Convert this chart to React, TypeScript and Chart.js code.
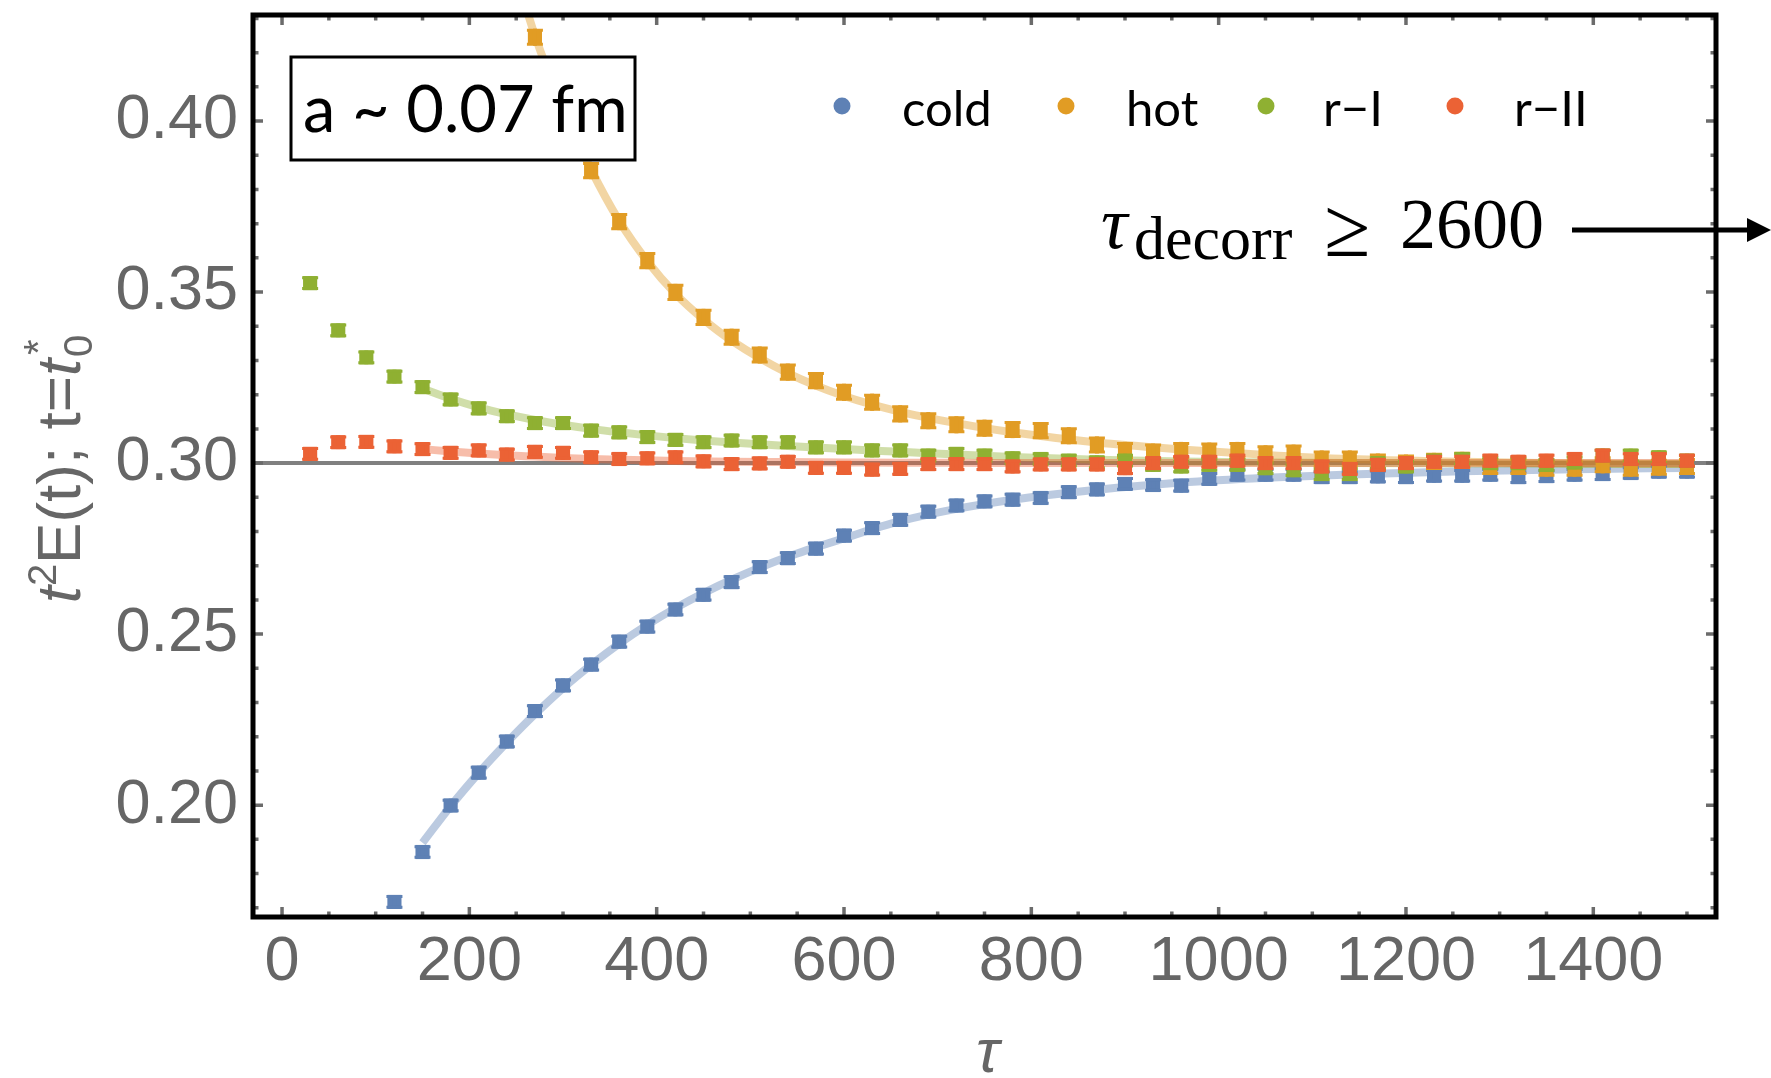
import React, { useEffect, useRef } from "react";
import { Chart, registerables } from "chart.js";

Chart.register(...registerables);

// Markov-chain time (trajectories)
const TAU = [
  30, 60, 90, 120, 150, 180, 210, 240, 270, 300,
  330, 360, 390, 420, 450, 480, 510, 540, 570, 600,
  630, 660, 690, 720, 750, 780, 810, 840, 870, 900,
  930, 960, 990, 1020, 1050, 1080, 1110, 1140, 1170, 1200,
  1230, 1260, 1290, 1320, 1350, 1380, 1410, 1440, 1470, 1500,
];

// t^2 E(t) at t = t0* for each start
const COLD = [
  null, null, null, 0.1717, 0.1863, 0.1999, 0.2095, 0.2186, 0.2275, 0.2350,
  0.2411, 0.2478, 0.2522, 0.2572, 0.2615, 0.2652, 0.2696, 0.2722, 0.2750, 0.2788,
  0.2810, 0.2834, 0.2858, 0.2876, 0.2888, 0.2893, 0.2898, 0.2915, 0.2923, 0.2939,
  0.2936, 0.2934, 0.2954, 0.2966, 0.2966, 0.2966, 0.2959, 0.2959, 0.2961, 0.2959,
  0.2963, 0.2963, 0.2966, 0.2959, 0.2962, 0.2966, 0.2968, 0.2971, 0.2975, 0.2975,
];
const HOT = [
  null, null, null, null, null, null, null, null, 0.4245, 0.4035,
  0.3855, 0.3706, 0.3592, 0.3499, 0.3426, 0.3368, 0.3316, 0.3266, 0.3241, 0.3207,
  0.3178, 0.3144, 0.3124, 0.3112, 0.3102, 0.3098, 0.3095, 0.3080, 0.3053, 0.3037,
  0.3032, 0.3037, 0.3035, 0.3037, 0.3027, 0.3029, 0.3012, 0.3012, 0.3003, 0.3000,
  0.3005, 0.3008, 0.2990, 0.2990, 0.2985, 0.2985, 0.2995, 0.2985, 0.2988, 0.2990,
];
const R_I = [
  0.3526, 0.3388, 0.3309, 0.3253, 0.3222, 0.3186, 0.3160, 0.3137, 0.3117, 0.3117,
  0.3095, 0.3090, 0.3076, 0.3068, 0.3061, 0.3066, 0.3061, 0.3061, 0.3046, 0.3046,
  0.3037, 0.3037, 0.3022, 0.3027, 0.3022, 0.3014, 0.3012, 0.3007, 0.3002, 0.3007,
  0.2995, 0.2990, 0.2995, 0.2995, 0.2985, 0.2979, 0.2968, 0.2968, 0.3000, 0.2990,
  0.3007, 0.3012, 0.3000, 0.3000, 0.2995, 0.3002, 0.3022, 0.3022, 0.3017, 0.3007,
];
const R_II = [
  0.3027, 0.3061, 0.3062, 0.3049, 0.3041, 0.3030, 0.3037, 0.3025, 0.3033, 0.3030,
  0.3017, 0.3012, 0.3014, 0.3017, 0.3005, 0.2997, 0.2999, 0.3004, 0.2986, 0.2986,
  0.2981, 0.2983, 0.2997, 0.2997, 0.2997, 0.2990, 0.2996, 0.2996, 0.2996, 0.2985,
  0.3000, 0.3004, 0.3004, 0.3007, 0.3000, 0.3000, 0.2990, 0.2983, 0.2995, 0.3000,
  0.3004, 0.3004, 0.3007, 0.3004, 0.3007, 0.3012, 0.3022, 0.3012, 0.3012, 0.3007,
];

// statistical errors (half-widths)
const ERR_COLD = 0.0020;
const ERR_HOT = 0.0025;
const ERR_R_I = 0.0020;
const ERR_R_II = 0.0020;

// exponential-fit curves, sampled along tau
const FIT_TAU = [
  150, 180, 210, 240, 270, 300, 330, 360, 390, 420, 450, 480,
  540, 600, 660, 720, 780, 870, 960, 1050, 1140, 1260, 1380, 1500,
];
const FIT_COLD = [
  0.1890, 0.1997, 0.2094, 0.2183, 0.2266, 0.2342, 0.2410, 0.2472, 0.2527, 0.2576, 0.2620, 0.2659,
  0.2726, 0.2780, 0.2830, 0.2866, 0.2893, 0.2922, 0.2943, 0.2957, 0.2967, 0.2976, 0.2982, 0.2986,
];
const FIT_HOT = [
  null, null, null, 0.4520, 0.4250, 0.4037, 0.3858, 0.3708, 0.3590, 0.3495, 0.3420, 0.3358,
  0.3263, 0.3196, 0.3150, 0.3117, 0.3090, 0.3060, 0.3040, 0.3024, 0.3012, 0.3004, 0.2999, 0.2997,
];
const FIT_R_I = [
  0.3218, 0.3188, 0.3163, 0.3143, 0.3126, 0.3112, 0.3100, 0.3090, 0.3081, 0.3073, 0.3066, 0.3060,
  0.3050, 0.3041, 0.3033, 0.3025, 0.3018, 0.3010, 0.3005, 0.3002, 0.3000, 0.2999, 0.2998, 0.2998,
];
const FIT_R_II = [
  0.3041, 0.3034, 0.3028, 0.3023, 0.3019, 0.3015, 0.3012, 0.3010, 0.3008, 0.3006, 0.3005, 0.3004,
  0.3003, 0.3002, 0.3001, 0.3001, 0.3000, 0.3000, 0.3000, 0.3000, 0.3000, 0.3000, 0.3000, 0.3000,
];

const REFERENCE_LEVEL = 0.3;

const X_TICKS = [0, 200, 400, 600, 800, 1000, 1200, 1400];
const Y_TICKS = [0.2, 0.25, 0.3, 0.35, 0.4];
const X_MINOR_STEP = 50;
const Y_MINOR_STEP = 0.01;

const SERIES = [
  { label: "cold", values: COLD, fit: FIT_COLD, err: ERR_COLD, color: "#5E81B5", rgb: "94,129,181" },
  { label: "hot", values: HOT, fit: FIT_HOT, err: ERR_HOT, color: "#E19C24", rgb: "225,156,36" },
  { label: "r\u2212I", values: R_I, fit: FIT_R_I, err: ERR_R_I, color: "#8FB032", rgb: "143,176,50" },
  { label: "r\u2212II", values: R_II, fit: FIT_R_II, err: ERR_R_II, color: "#EB6235", rgb: "235,98,53" },
];

const GREY = "#666666";
const SANS = "'Liberation Sans', Arial, sans-serif";
const SERIF = "'Liberation Serif', 'DejaVu Serif', serif";
const LABEL_FONT = "Lato, 'Open Sans', sans-serif";

const decorPlugin = {
  id: "decor",
  beforeDatasetsDraw(chart: any) {
    const { ctx, chartArea: a, scales } = chart;
    const y = scales.y.getPixelForValue(REFERENCE_LEVEL);
    ctx.save();
    ctx.strokeStyle = "#808080";
    ctx.lineWidth = 4;
    ctx.beginPath();
    ctx.moveTo(a.left, y);
    ctx.lineTo(a.right, y);
    ctx.stroke();
    ctx.restore();
  },
  afterDatasetDraw(chart: any, args: any) {
    const ds = chart.data.datasets[args.index];
    if (!ds.errorBar) return;
    const { ctx, chartArea: a, scales } = chart;
    ctx.save();
    ctx.beginPath();
    ctx.rect(a.left, a.top, a.right - a.left, a.bottom - a.top);
    ctx.clip();
    ctx.strokeStyle = ds.backgroundColor;
    args.meta.data.forEach((pt: any, i: number) => {
      const v = ds.data[i].y;
      if (v == null) return;
      const y1 = scales.y.getPixelForValue(v + ds.errorBar);
      const y2 = scales.y.getPixelForValue(v - ds.errorBar);
      ctx.lineWidth = 4;
      ctx.beginPath();
      ctx.moveTo(pt.x, y1);
      ctx.lineTo(pt.x, y2);
      ctx.stroke();
      ctx.lineWidth = 3;
      ctx.beginPath();
      ctx.moveTo(pt.x - 8, y1 + 1.5);
      ctx.lineTo(pt.x + 8, y1 + 1.5);
      ctx.moveTo(pt.x - 8, y2 - 1.5);
      ctx.lineTo(pt.x + 8, y2 - 1.5);
      ctx.stroke();
    });
    ctx.restore();
  },
  afterDraw(chart: any) {
    const { ctx, chartArea: a, scales } = chart;
    const xs = scales.x;
    const ys = scales.y;
    ctx.save();

    // inward ticks on all four sides
    ctx.strokeStyle = "#6b6b6b";
    ctx.lineWidth = 3.5;
    const xMinor: number[] = [];
    for (let v = 0; v <= xs.max; v += X_MINOR_STEP) xMinor.push(v);
    xMinor.forEach((v) => {
      const len = X_TICKS.includes(v) ? 10 : 5.5;
      const px = xs.getPixelForValue(v);
      ctx.beginPath();
      ctx.moveTo(px, a.bottom);
      ctx.lineTo(px, a.bottom - len);
      ctx.moveTo(px, a.top);
      ctx.lineTo(px, a.top + len);
      ctx.stroke();
    });
    const yMinor: number[] = [];
    for (let k = Math.ceil(ys.min / Y_MINOR_STEP); k * Y_MINOR_STEP <= ys.max; k++) yMinor.push(k);
    yMinor.forEach((k) => {
      const v = k * Y_MINOR_STEP;
      const major = Y_TICKS.some((t) => Math.abs(t - v) < 1e-6);
      const len = major ? 10 : 5.5;
      const py = ys.getPixelForValue(v);
      ctx.beginPath();
      ctx.moveTo(a.left, py);
      ctx.lineTo(a.left + len, py);
      ctx.moveTo(a.right, py);
      ctx.lineTo(a.right - len, py);
      ctx.stroke();
    });

    // frame
    ctx.strokeStyle = "#000";
    ctx.lineWidth = 5;
    ctx.strokeRect(a.left, a.top, a.right - a.left, a.bottom - a.top);

    // legend
    const dotX = [842, 1066, 1266, 1455];
    const textX = [902, 1126, 1323, 1514];
    ctx.font = `49px ${LABEL_FONT}`;
    ctx.textBaseline = "alphabetic";
    ctx.textAlign = "left";
    SERIES.forEach((s, i) => {
      ctx.fillStyle = s.color;
      ctx.beginPath();
      ctx.arc(dotX[i], 106, 8.5, 0, Math.PI * 2);
      ctx.fill();
      ctx.fillStyle = "#000";
      ctx.fillText(s.label, textX[i], 126);
    });

    // lattice-spacing label
    ctx.fillStyle = "#fff";
    ctx.fillRect(291, 57, 344, 103);
    ctx.strokeStyle = "#000";
    ctx.lineWidth = 3;
    ctx.strokeRect(291, 57, 344, 103);
    ctx.fillStyle = "#000";
    ctx.font = `65px ${LABEL_FONT}`;
    ctx.fillText("a ~ 0.07 fm", 303, 132);

    // decorrelation annotation with arrow
    ctx.fillStyle = "#000";
    ctx.font = `italic 74px ${SERIF}`;
    ctx.fillText("\u03c4", 1101, 248);
    ctx.font = `62px ${SERIF}`;
    ctx.fillText("decorr", 1134, 259);
    ctx.font = `84px ${SERIF}`;
    ctx.fillText("\u2265", 1324, 256);
    ctx.font = `72px ${SERIF}`;
    ctx.fillText("2600", 1400, 248);
    ctx.strokeStyle = "#000";
    ctx.lineWidth = 5;
    ctx.beginPath();
    ctx.moveTo(1572, 230);
    ctx.lineTo(1752, 230);
    ctx.stroke();
    ctx.beginPath();
    ctx.moveTo(1771, 230);
    ctx.lineTo(1747, 218);
    ctx.lineTo(1747, 242);
    ctx.closePath();
    ctx.fill();

    // x-axis title
    ctx.fillStyle = GREY;
    ctx.textAlign = "center";
    ctx.font = `italic 62px ${SANS}`;
    ctx.fillText("\u03c4", (a.left + a.right) / 2 + 3, 1072);

    // y-axis title: t^2 E(t); t=t0*
    const base = 62;
    const small = 40;
    const runs = [
      { t: "t", f: `italic ${base}px ${SANS}`, dy: 0 },
      { t: "2", f: `${small}px ${SANS}`, dy: -24 },
      { t: "E(t); t=", f: `${base}px ${SANS}`, dy: 0 },
      { t: "t", f: `italic ${base}px ${SANS}`, dy: 0 },
    ];
    ctx.translate(80, 470);
    ctx.rotate(-Math.PI / 2);
    ctx.textAlign = "left";
    let total = 0;
    const widths = runs.map((r) => {
      ctx.font = r.f;
      const w = ctx.measureText(r.t).width;
      total += w;
      return w;
    });
    ctx.font = `${small}px ${SANS}`;
    const subW = ctx.measureText("0").width;
    total += subW;
    let cx = -total / 2;
    runs.forEach((r, i) => {
      ctx.font = r.f;
      ctx.fillText(r.t, cx, r.dy);
      cx += widths[i] + (i === 3 ? 2 : 0);
    });
    ctx.font = `${small}px ${SANS}`;
    ctx.fillText("0", cx, 12);
    ctx.fillText("*", cx + 2, -28);

    ctx.restore();
  },
};

export default function App() {
  const canvasRef = useRef<HTMLCanvasElement>(null);

  useEffect(() => {
    const fitSets = SERIES.map((s, i) => ({
      type: "line" as const,
      label: `${s.label} fit`,
      data: FIT_TAU.map((t, k) => ({ x: t, y: s.fit[k] })),
      borderColor: `rgba(${s.rgb},0.42)`,
      backgroundColor: `rgba(${s.rgb},0.42)`,
      borderWidth: 8,
      pointRadius: 0,
      cubicInterpolationMode: "monotone" as const,
      spanGaps: false,
      order: 20 - i,
    }));
    const pointSets = SERIES.map((s, i) => ({
      type: "line" as const,
      label: s.label,
      data: TAU.map((t, k) => ({ x: t, y: s.values[k] })),
      showLine: false,
      pointStyle: "rect" as const,
      pointRadius: 10,
      pointHoverRadius: 10,
      pointBorderWidth: 0,
      backgroundColor: s.color,
      borderColor: s.color,
      errorBar: s.err,
      order: 4 - i,
    }));

    const chart = new Chart(canvasRef.current!, {
      type: "line",
      data: { datasets: [...fitSets, ...pointSets] as any },
      options: {
        responsive: false,
        animation: false,
        devicePixelRatio: 1,
        layout: { padding: { top: 15, right: 55, left: 0, bottom: 0 } },
        plugins: { legend: { display: false }, tooltip: { enabled: false } },
        events: [],
        scales: {
          x: {
            type: "linear",
            min: -31,
            max: 1531,
            afterBuildTicks: (s: any) => {
              s.ticks = X_TICKS.map((v) => ({ value: v }));
            },
            afterFit: (s: any) => {
              s.height = 161;
              s.paddingLeft = 0;
              s.paddingRight = 0;
            },
            grid: { display: false, drawTicks: false },
            border: { display: false },
            ticks: {
              autoSkip: false,
              maxRotation: 0,
              includeBounds: false,
              padding: 8,
              color: GREY,
              font: { family: SANS, size: 63 },
              callback: (v: any) => String(v),
            },
          },
          y: {
            type: "linear",
            min: 0.1673,
            max: 0.431,
            afterBuildTicks: (s: any) => {
              s.ticks = Y_TICKS.map((v) => ({ value: v }));
            },
            afterFit: (s: any) => {
              s.width = 253;
              s.paddingTop = 0;
              s.paddingBottom = 0;
            },
            grid: { display: false, drawTicks: false },
            border: { display: false },
            ticks: {
              includeBounds: false,
              padding: 15,
              color: GREY,
              font: { family: SANS, size: 63 },
              callback: (v: any) => Number(v).toFixed(2),
            },
          },
        },
      },
      plugins: [decorPlugin],
    } as any);

    return () => chart.destroy();
  }, []);

  return (
    <div style={{ position: "absolute", left: 0, top: 0, width: 1771, height: 1078, background: "#fff" }}>
      <canvas ref={canvasRef} width={1771} height={1078} style={{ display: "block", width: 1771, height: 1078 }} />
    </div>
  );
}
